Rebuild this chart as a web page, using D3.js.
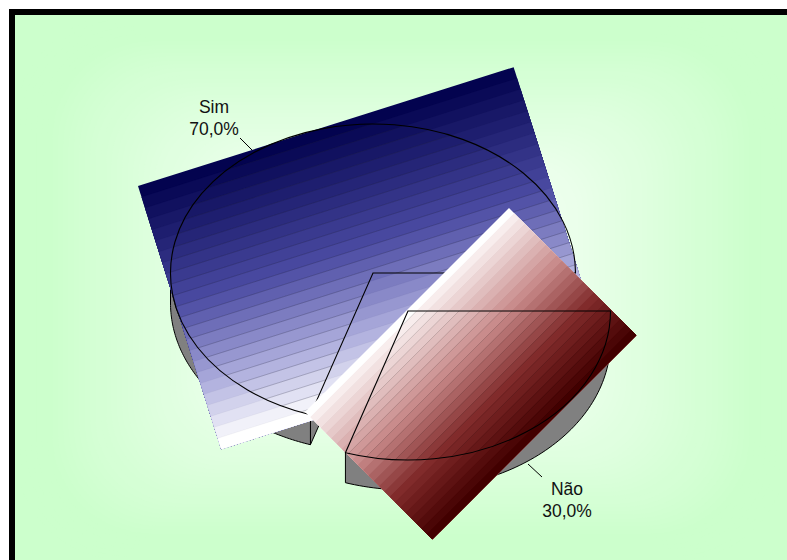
<!DOCTYPE html>
<html>
<head>
<meta charset="utf-8">
<script src="https://cdn.jsdelivr.net/npm/d3@7/dist/d3.min.js"></script>
<style>
html,body{margin:0;padding:0;background:#fff;}
svg{display:block;}
text{font-family:"Liberation Sans",Arial,sans-serif;font-size:17.5px;fill:#111;text-anchor:middle;}
</style>
</head>
<body>
<svg id="chart" width="787" height="560"></svg>
<script>
// Survey answers
const categories = ["Sim", "Não"];
const shares = [70, 30];

const svg = d3.select("#chart");
const defs = svg.append("defs");
const W = 787, H = 560;

// Frame: heavy black rule on the top and left of the plot area
const frameX = 9, frameW = 6;
svg.append("rect").attr("x", frameX).attr("y", frameX).attr("width", W - frameX).attr("height", H - frameX).attr("fill", "#000");

// Backdrop: concentric rounded rectangles fading out from the middle
const bgX = frameX + frameW, bgY = bgX, bgW = W - bgX, bgH = H - bgY;
const bgColor = d3.scaleLinear().domain([0.15, 0.92]).range(["#ffffff", "#ccffcc"]).clamp(true).interpolate(d3.interpolateRgb);
const bg = svg.append("g");
bg.append("rect").attr("x", bgX).attr("y", bgY).attr("width", bgW).attr("height", bgH).attr("fill", "#ccffcc");
const steps = d3.range(1, 0, -1 / 72);
bg.selectAll("rect.step").data(steps).join("rect").attr("class", "step")
  .attr("x", s => bgX + bgW / 2 - bgW / 2 * s)
  .attr("y", s => bgY + bgH / 2 - bgH / 2 * s)
  .attr("width", s => bgW * s)
  .attr("height", s => bgH * s)
  .attr("rx", s => 0.2 * bgH * s)
  .attr("fill", s => bgColor(s));

// Pie geometry
const rx = 202.5, ry = 149, depth = 30;
const centers = { "Sim": [373, 273], "Não": [408, 311] };
const startDeg = 198;
const pie = d3.pie().sort(null)
  .startAngle(startDeg * Math.PI / 180)
  .endAngle((startDeg + 360) * Math.PI / 180);
const slices = pie(shares).map((d, i) => ({ ...d, name: categories[i], center: centers[categories[i]] }));
const unitArc = d3.arc().innerRadius(0).outerRadius(1);

const pt = (c, a, dy = 0) => [c[0] + rx * Math.sin(a), c[1] - ry * Math.cos(a) + dy];
const line = d3.line();

// Outer rim between two angles, extruded downward
function rimPath(c, a0, a1) {
  const n = 80;
  const ts = d3.range(n + 1).map(i => a0 + (a1 - a0) * i / n);
  const top = ts.map(t => pt(c, t));
  const bottom = ts.slice().reverse().map(t => pt(c, t, depth));
  return line(top.concat(bottom)) + "Z";
}

// Cut face of a slice along one radius
function cutPath(c, a) {
  const p = pt(c, a);
  return line([c, p, [p[0], p[1] + depth], [c[0], c[1] + depth]]) + "Z";
}

// Stepped band fills, one per slice
const bandCount = 24;
const fills = {
  "Sim": {
    x: 138, y: 186, w: 394, h: 276, rot: -17.55,
    stops: [0, 0.45, 0.75, 0.96, 1],
    colors: ["#03034f", "#4a4aa2", "#a8a8da", "#f2f2fa", "#ffffff"],
    hatch: "rgba(40,40,60,0.26)", seam: "rgba(30,30,60,0.06)"
  },
  "Não": {
    x: 305, y: 412, w: 288.5, h: 180, rot: -45,
    stops: [0, 0.04, 0.4, 0.7, 1],
    colors: ["#ffffff", "#f8eeee", "#c88a8a", "#802a2a", "#420000"],
    hatch: "rgba(0,0,0,0.16)", seam: "rgba(0,0,0,0.03)"
  }
};

slices.forEach((s, idx) => {
  const c = s.center, f = fills[s.name];
  const g = svg.append("g").attr("class", "slice");

  // Rim and cut faces: only the front half of the ellipse faces the viewer
  const a0 = s.startAngle, a1 = s.endAngle;
  const rimTo = s.name === "Sim" ? Math.PI * 1.5 : a1;
  g.append("path").attr("d", cutPath(c, a0))
    .attr("fill", "#808080").attr("stroke", "#000").attr("stroke-width", 1);
  g.append("path").attr("d", rimPath(c, a0, rimTo))
    .attr("fill", "#808080").attr("stroke", "#000").attr("stroke-width", 1);

  // Band fill: each band runs to the far edge so neighbours leave no gaps
  const color = d3.scaleLinear().domain(f.stops).range(f.colors).interpolate(d3.interpolateRgb);
  const y = d3.scaleBand().domain(d3.range(bandCount)).range([0, f.h]);
  const fg = g.append("g").attr("transform", `translate(${f.x},${f.y}) rotate(${f.rot})`);
  fg.selectAll("rect").data(d3.range(bandCount)).join("rect")
    .attr("x", 0).attr("y", i => y(i)).attr("width", f.w).attr("height", i => f.h - y(i))
    .attr("fill", i => color(i / (bandCount - 1)));
  fg.selectAll("line").data(d3.range(1, bandCount)).join("line")
    .attr("x1", 0).attr("x2", f.w).attr("y1", i => y(i)).attr("y2", i => y(i))
    .attr("stroke", f.seam).attr("stroke-width", 0.6);

  // Hairlines between bands, only inside the slice top
  const clipId = "clip" + idx;
  defs.append("clipPath").attr("id", clipId)
    .append("path")
    .attr("transform", `translate(${c[0]},${c[1]}) scale(${rx},${ry})`)
    .attr("d", unitArc(s));
  const hg = g.append("g").attr("clip-path", `url(#${clipId})`)
    .append("g").attr("transform", `translate(${f.x},${f.y}) rotate(${f.rot})`);
  hg.selectAll("line").data(d3.range(1, bandCount)).join("line")
    .attr("x1", 0).attr("x2", f.w).attr("y1", i => y(i)).attr("y2", i => y(i))
    .attr("stroke", f.hatch).attr("stroke-width", 0.8);

  // Slice outline
  g.append("path")
    .attr("transform", `translate(${c[0]},${c[1]}) scale(${rx},${ry})`)
    .attr("d", unitArc(s))
    .attr("fill", "none").attr("stroke", "#000").attr("stroke-width", 1.1)
    .attr("vector-effect", "non-scaling-stroke");
});

// Data labels with leader lines
const fmt = d3.formatLocale({ decimal: ",", thousands: ".", grouping: [3], currency: ["", ""] }).format(".1f");
const labelPos = { "Sim": { x: 214, y: 113, lead: [[240, 138], [252, 150]] }, "Não": { x: 567, y: 495, lead: [[528, 464], [542, 477]] } };
const labels = svg.append("g");
slices.forEach(s => {
  const p = labelPos[s.name];
  labels.append("path").attr("d", line(p.lead)).attr("stroke", "#000").attr("fill", "none").attr("stroke-width", 1);
  labels.append("text").attr("x", p.x).attr("y", p.y).text(s.name);
  labels.append("text").attr("x", p.x).attr("y", p.y + 22).text(fmt(s.data) + "%");
});
</script>
</body>
</html>
